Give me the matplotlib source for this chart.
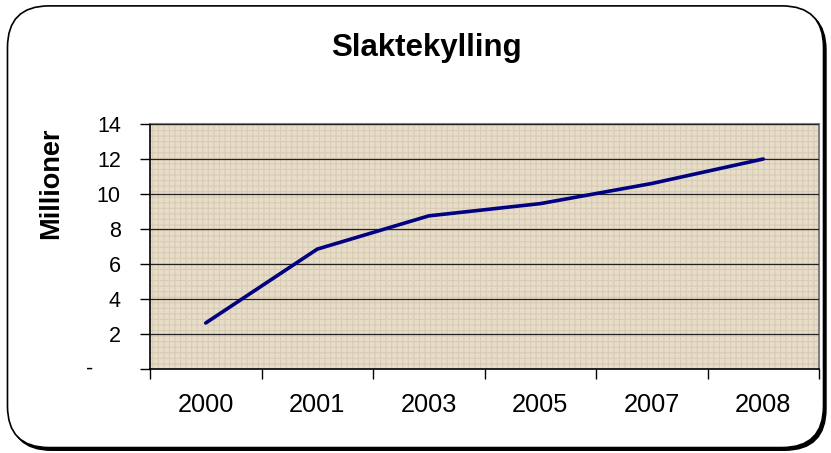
import matplotlib.pyplot as plt
from matplotlib.patches import FancyBboxPatch, Rectangle
from matplotlib import transforms

plt.rcParams['font.family'] = ['Liberation Sans', 'DejaVu Sans']
plt.rcParams['hatch.linewidth'] = 0.8

years = ["2000", "2001", "2003", "2005", "2007", "2008"]
values = [2.63, 6.85, 8.75, 9.45, 10.6, 12.0]
yticks = [0, 2, 4, 6, 8, 10, 12, 14]
ylabels = ["-", "2", "4", "6", "8", "10", "12", "14"]

fig = plt.figure(figsize=(8.31, 4.53), dpi=100)

# rounded chart frame with a small shadow
shadow = FancyBboxPatch((0.012, 0.006), 0.982, 0.975, boxstyle="round,pad=0,rounding_size=0.05",
                        transform=fig.transFigure, facecolor="black", edgecolor="black",
                        mutation_aspect=831 / 453, zorder=-2)
frame = FancyBboxPatch((0.009, 0.012), 0.982, 0.975, boxstyle="round,pad=0,rounding_size=0.05",
                       transform=fig.transFigure, facecolor="white", edgecolor="black", lw=1.2,
                       mutation_aspect=831 / 453, zorder=-1)
fig.patches.extend([shadow, frame])

ax = fig.add_axes([0.1805, 0.1854, 0.8051, 0.5409])
ax.set_facecolor("#E7DDC9")
# woven-looking canvas texture of the plot area
ax.add_patch(Rectangle((0, 0), 1, 1, transform=ax.transAxes, facecolor="none",
                       edgecolor="#D8CCB4", hatch="+++", lw=0, zorder=0))

x = list(range(len(years)))
ax.plot(x, values, color="#000080", lw=2.6, solid_capstyle="round", zorder=3)

ax.set_xlim(-0.5, len(years) - 0.5)
ax.set_ylim(0, 14)
ax.set_yticks(yticks)
# the "-" for zero sits further left, drawn separately below
ax.set_yticklabels(["" if v == 0 else l for v, l in zip(yticks, ylabels)], fontsize=15.5)
ax.yaxis.grid(True, color="#222222", lw=0.9, zorder=1)
ax.set_axisbelow(False)
dash_tr = transforms.offset_copy(ax.get_yaxis_transform(), fig=fig, x=-57, y=0, units="dots")
ax.text(0, yticks[0], ylabels[0], transform=dash_tr, ha="right", va="center", fontsize=15.5)

# Excel style: tick marks between categories, labels in the middle
ax.set_xticks([i - 0.5 for i in range(len(years) + 1)])
ax.set_xticklabels([])
ax.set_xticks(x, minor=True)
ax.set_xticklabels(years, minor=True, fontsize=18.3)
ax.tick_params(axis="x", which="minor", length=0, pad=17)
ax.tick_params(axis="x", which="major", length=7, width=1, direction="out")
ax.tick_params(axis="y", length=7, width=1, pad=14)

for side in ["top", "right"]:
    ax.spines[side].set_color("#808080")
    ax.spines[side].set_linewidth(1.5)
for side in ["left", "bottom"]:
    ax.spines[side].set_color("black")
    ax.spines[side].set_linewidth(1.2)

fig.text(0.0614, 0.596, "Millioner", rotation=90, ha="center", va="center",
         fontsize=19.5, fontweight="bold")
fig.text(0.513, 0.895, "Slaktekylling", ha="center", va="center", fontsize=22.5, fontweight="bold")

fig.savefig("out.png", dpi=100)
